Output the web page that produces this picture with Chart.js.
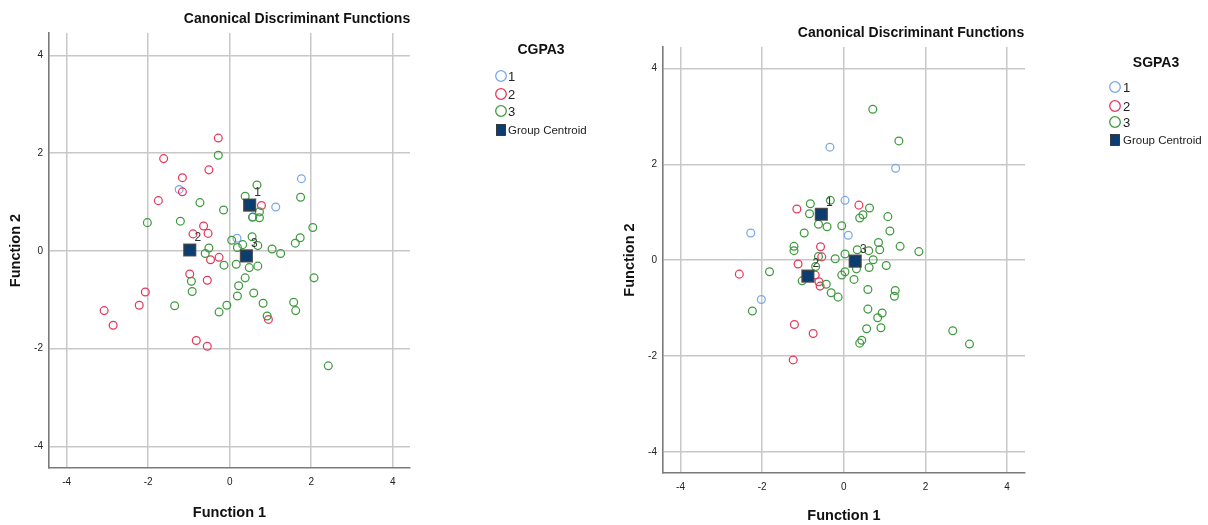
<!DOCTYPE html>
<html><head><meta charset="utf-8">
<script src="https://cdn.jsdelivr.net/npm/chart.js@4.4.1/dist/chart.umd.min.js"></script>
<style>
html,body{margin:0;padding:0;background:#fff;}
#wrap{position:relative;width:1208px;height:525px;overflow:hidden;}
.c{position:absolute;top:0;width:604px;height:525px;}
</style></head><body>
<div id="wrap">
<div class="c" style="left:0"><canvas id="c1" width="604" height="525"></canvas></div>
<div class="c" style="left:604px"><canvas id="c2" width="604" height="525"></canvas></div>
</div>
<script>
// ---- text ----
const chartTitle = 'Canonical Discriminant Functions';
const xAxisTitle = 'Function 1';
const yAxisTitle = 'Function 2';
const groupLabels = ['1', '2', '3'];
const centroidLegendLabel = 'Group Centroid';
const cgpaLegendTitle = 'CGPA3';
const sgpaLegendTitle = 'SGPA3';
const tickStep = 2;

// ---- CGPA3 chart data [Function 1, Function 2] ----
const cgpaGroup1 = [[-1.24,1.26],[1.76,1.48],[1.13,0.90],[0.18,0.26],[0.57,0.70]];
const cgpaGroup2 = [[-0.28,2.31],[-1.62,1.89],[-0.51,1.66],[-1.16,1.50],[-1.16,1.21],[-1.75,1.03],
  [0.78,0.93],[-0.64,0.51],[-0.90,0.35],[-0.53,0.36],[-0.26,-0.13],[-0.47,-0.18],[-0.98,-0.47],
  [-0.55,-0.60],[-2.07,-0.84],[-2.22,-1.11],[-3.08,-1.22],[-2.86,-1.52],[0.95,-1.40],[-0.82,-1.83],[-0.55,-1.95]];
const cgpaGroup3 = [[-0.28,1.96],[0.67,1.35],[0.38,1.12],[1.74,1.10],[-0.73,0.99],[-0.15,0.84],
  [0.73,0.80],[0.56,0.69],[0.73,0.68],[-2.02,0.58],[-1.21,0.61],[2.04,0.48],[0.55,0.29],[1.73,0.27],
  [1.61,0.16],[0.05,0.22],[0.32,0.13],[0.19,0.07],[0.69,0.11],[-0.51,0.06],[-0.60,-0.05],[1.04,0.04],
  [1.25,-0.05],[-0.14,-0.29],[0.16,-0.27],[0.48,-0.34],[0.69,-0.31],[0.38,-0.55],[2.07,-0.55],
  [-0.94,-0.62],[0.22,-0.71],[-0.92,-0.83],[0.59,-0.86],[0.19,-0.92],[0.82,-1.07],[1.57,-1.05],
  [-1.35,-1.12],[-0.07,-1.11],[1.62,-1.22],[-0.26,-1.25],[0.92,-1.33],[2.42,-2.35]];
const cgpaCentroids = [[0.49,0.94],[-0.98,0.02],[0.41,-0.10]];

// ---- SGPA3 chart data [Function 1, Function 2] ----
const sgpaGroup1 = [[-0.34,2.36],[1.27,1.92],[0.03,1.25],[0.11,0.52],[-2.28,0.57],[-2.02,-0.82]];
const sgpaGroup2 = [[-1.15,1.07],[0.37,1.15],[-0.57,0.28],[-0.54,0.07],[-1.12,-0.08],[-2.56,-0.29],
  [-0.70,-0.31],[-0.61,-0.45],[-0.58,-0.54],[-1.21,-1.34],[-0.75,-1.53],[-1.24,-2.08]];
const sgpaGroup3 = [[0.71,3.15],[1.35,2.49],[-0.33,1.25],[-0.82,1.18],[0.63,1.09],[-0.84,0.97],
  [0.47,0.95],[0.39,0.88],[1.08,0.91],[-0.62,0.75],[-0.41,0.70],[-0.05,0.72],[-0.97,0.57],[1.13,0.61],
  [0.85,0.37],[1.38,0.29],[-1.22,0.29],[-1.22,0.20],[0.33,0.22],[0.61,0.20],[0.88,0.22],[1.84,0.18],
  [-0.62,0.08],[0.03,0.13],[-0.21,0.03],[0.72,0.01],[1.04,-0.11],[0.62,-0.15],[0.31,-0.18],
  [-0.69,-0.13],[-1.82,-0.24],[0.03,-0.24],[-0.05,-0.31],[-1.02,-0.43],[-0.43,-0.50],[0.25,-0.40],
  [-0.31,-0.68],[-0.14,-0.77],[0.59,-0.61],[1.26,-0.63],[1.24,-0.75],[-2.24,-1.06],[0.59,-1.02],
  [0.94,-1.10],[0.83,-1.20],[0.56,-1.43],[0.91,-1.41],[0.44,-1.67],[0.39,-1.73],[2.67,-1.47],[3.08,-1.75]];
const sgpaCentroids = [[-0.55,0.96],[-0.88,-0.33],[0.28,-0.02]];

// ---- style ----
const FONT = "'Liberation Sans', Arial, sans-serif";
const groupColors = ['#78a8e8', '#e5385c', '#3f9a3f'];
const centroidFill = '#0a3e72';

function pts(arr){ return arr.map(p => ({x:p[0], y:p[1]})); }

const overlayPlugin = {
  id: 'overlay',
  afterDraw(chart, args, o){
    const ctx = chart.ctx;
    ctx.save();
    ctx.fillStyle = '#111';
    ctx.font = 'bold 14px ' + FONT;
    ctx.textAlign = 'center';
    ctx.textBaseline = 'middle';
    ctx.fillText(chartTitle, o.titleX, o.titleY);
    const xs = chart.scales.x, ys = chart.scales.y;
    ctx.font = '12px ' + FONT;
    ctx.fillStyle = '#333';
    o.centroids.forEach((c, i) => {
      ctx.fillText(groupLabels[i], xs.getPixelForValue(c[0]) + 8, ys.getPixelForValue(c[1]) - 12);
    });
    ctx.fillStyle = '#111';
    ctx.font = 'bold 14px ' + FONT;
    ctx.fillText(o.legendTitle, o.legTitleX, o.legTitleY);
    ctx.textAlign = 'left';
    groupLabels.forEach((g, i) => {
      ctx.beginPath();
      ctx.strokeStyle = groupColors[i];
      ctx.lineWidth = 1.3;
      ctx.arc(o.markX, o.itemY[i], 5.3, 0, Math.PI*2);
      ctx.stroke();
      ctx.fillStyle = '#222';
      ctx.font = '13px ' + FONT;
      ctx.fillText(g, o.textX, o.itemY[i] + 1);
    });
    ctx.fillStyle = centroidFill;
    ctx.fillRect(o.markX - 4.5, o.itemY[3] - 5.5, 9, 11);
    ctx.strokeStyle = '#222';
    ctx.lineWidth = 0.8;
    ctx.strokeRect(o.markX - 4.5, o.itemY[3] - 5.5, 9, 11);
    ctx.fillStyle = '#222';
    ctx.font = '11.5px ' + FONT;
    ctx.fillText(centroidLegendLabel, o.textX, o.itemY[3] + 1);
    ctx.restore();
  }
};

function makeChart(id, g1, g2, g3, cen, geo, ov){
  const ds = [
    {label: 'Group Centroid', data: pts(cen), pointStyle: 'rect', pointRadius: 8.2,
     backgroundColor: centroidFill, borderColor: 'rgba(60,60,60,0.85)', borderWidth: 1.6, order: 0},
    {label: groupLabels[0], data: pts(g1), order: 3, borderColor: groupColors[0]},
    {label: groupLabels[1], data: pts(g2), order: 2, borderColor: groupColors[1]},
    {label: groupLabels[2], data: pts(g3), order: 1, borderColor: groupColors[2]}
  ];
  ds.slice(1).forEach(d => { d.pointRadius = 3.9; d.borderWidth = 1.25; d.backgroundColor = 'rgba(0,0,0,0)'; d.pointStyle = 'circle'; });
  const gridCfg = {color: '#c8c8c8', lineWidth: 1.5, drawTicks: false};
  const borderCfg = {display: true, color: '#7a7a7a', width: 1.6};
  return new Chart(document.getElementById(id), {
    type: 'scatter',
    data: {datasets: ds},
    plugins: [overlayPlugin],
    options: {
      responsive: false, animation: false, events: [],
      layout: {padding: geo.pad},
      plugins: {legend: {display: false}, tooltip: {enabled: false}, title: {display: false}, overlay: ov},
      scales: {
        x: {type: 'linear', position: 'bottom', min: geo.xmin, max: geo.xmax,
            afterFit(s){ s.height = geo.xh; },
            ticks: {stepSize: tickStep, includeBounds: false, padding: 8, color: '#222', maxRotation: 0, autoSkip: false,
                    font: {family: FONT, size: 10}},
            grid: gridCfg, border: borderCfg,
            title: {display: true, text: xAxisTitle, color: '#111', font: {family: FONT, size: 14.5, weight: 'bold'},
                    padding: {top: 0, bottom: geo.xtb}}},
        y: {type: 'linear', position: 'left', min: geo.ymin, max: geo.ymax,
            afterFit(s){ s.width = geo.yw; },
            ticks: {stepSize: tickStep, includeBounds: false, padding: 6, color: '#222', autoSkip: false,
                    font: {family: FONT, size: 10}},
            grid: gridCfg, border: borderCfg,
            title: {display: true, text: yAxisTitle, color: '#111', font: {family: FONT, size: 14.5, weight: 'bold'},
                    padding: {top: 7, bottom: 0}}}
      }
    }
  });
}

makeChart('c1', cgpaGroup1, cgpaGroup2, cgpaGroup3, cgpaCentroids,
  {pad: {left: 0, right: 194, top: 33, bottom: 0}, yw: 49, xh: 57,
   xmin: -4.434, xmax: 4.425, ymin: -4.44, ymax: 4.46, xtb: 3},
  {titleX: 297, titleY: 19, centroids: cgpaCentroids, legendTitle: cgpaLegendTitle,
   legTitleX: 541, legTitleY: 50, markX: 501, textX: 508, itemY: [76, 94, 111, 130]});

makeChart('c2', sgpaGroup1, sgpaGroup2, sgpaGroup3, sgpaCentroids,
  {pad: {left: 10, right: 183, top: 47, bottom: 0}, yw: 49, xh: 52,
   xmin: -4.43, xmax: 4.44, ymin: -4.44, ymax: 4.45, xtb: 0},
  {titleX: 307, titleY: 33, centroids: sgpaCentroids, legendTitle: sgpaLegendTitle,
   legTitleX: 552, legTitleY: 63, markX: 511, textX: 519, itemY: [87, 106, 122, 140]});
</script>
</body></html>
